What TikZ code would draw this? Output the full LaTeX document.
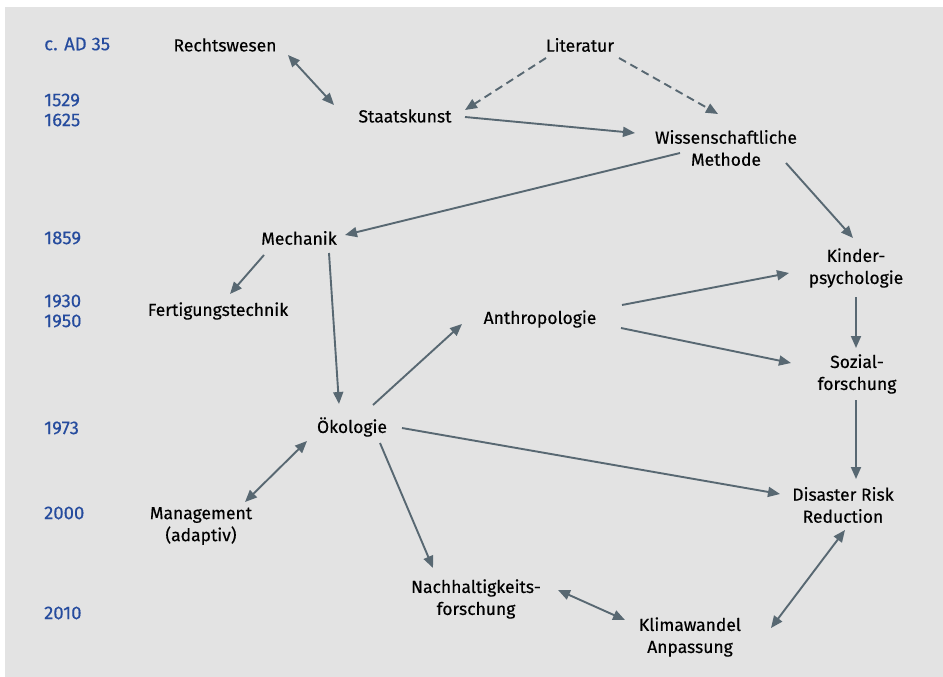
\documentclass[tikz,border=0pt]{standalone}
\usepackage{fontspec}
\setmainfont{Fira Sans}
\newfontfamily\labelfont[FakeBold=0.35]{Fira Sans}
\usetikzlibrary{arrows.meta,calc}
\definecolor{panelgray}{RGB}{227,227,227}
\definecolor{yearblue}{RGB}{38,76,158}
\definecolor{linkgray}{RGB}{88,104,114}

\begin{document}
\begin{tikzpicture}[x=1pt,y=-1pt,
  topic/.style={font=\labelfont\fontsize{17.5}{22}\selectfont,align=center,inner sep=0pt},
  year/.style={font=\labelfont\fontsize{18.5}{20}\selectfont,text=yearblue,anchor=west,align=left,inner sep=0pt},
  link/.style={draw=linkgray,line width=1.9pt,-{Triangle[length=12pt,width=10pt]}},
  both/.style={link,{Triangle[length=12pt,width=10pt]}-{Triangle[length=12pt,width=10pt]}},
  maybe/.style={link,dashed,dash pattern=on 8pt off 5pt}]
  \useasboundingbox (0,0) rectangle (943,677);
  \fill[panelgray] (5,7) rectangle (943,677);
  % time axis
  \node[year] (y35) at (44,44) {c. AD 35};
  \node[year] (y1529) at (44,110) {1529\\1625};
  \node[year] (y1859) at (44,238) {1859};
  \node[year] (y1930) at (44,311) {1930\\1950};
  \node[year] (y1973) at (44,428) {1973};
  \node[year] (y2000) at (44,513) {2000};
  \node[year] (y2010) at (44,613) {2010};
  % topics
  \node[topic] (recht) at (225,45) {Rechtswesen};
  \node[topic] (lit) at (580,45) {Literatur};
  \node[topic] (staat) at (405,116) {Staatskunst};
  \node[topic] (wiss) at (726,148) {Wissenschaftliche\\Methode};
  \node[topic] (mech) at (299,238) {Mechanik};
  \node[topic] (fert) at (218,311) {Fertigungstechnik};
  \node[topic] (kind) at (856,268) {Kinder-\\psychologie};
  \node[topic] (anthro) at (540,319) {Anthropologie};
  \node[topic] (sozial) at (857,374) {Sozial-\\forschung};
  \node[topic] (oeko) at (352,427) {Ökologie};
  \node[topic] (drr) at (843,505) {Disaster Risk\\Reduction};
  \node[topic] (mgmt) at (201,526) {Management\\(adaptiv)};
  \node[topic] (nach) at (476,599) {Nachhaltigkeits-\\forschung};
  \node[topic] (klima) at (690,637) {Klimawandel\\Anpassung};
  % links
  \draw[both] ($(recht)+(63,10)$) -- ($(staat)+(-71,-11)$);
  \draw[maybe] ($(lit)+(-34,13)$) -- ($(staat)+(60,-6)$);
  \draw[maybe] ($(lit)+(39,13)$) -- ($(wiss)+(-8,-34)$);
  \draw[link] ($(staat)+(60,1)$) -- ($(wiss)+(-91,-15)$);
  \draw[link] ($(wiss)+(-46,5)$) -- ($(mech)+(46,-3)$);
  \draw[link] ($(wiss)+(60,15)$) -- ($(kind)+(-3,-30)$);
  \draw[link] ($(mech)+(-35,17)$) -- ($(fert)+(12,-17)$);
  \draw[link] ($(mech)+(30,15)$) -- ($(oeko)+(-13,-23)$);
  \draw[link] ($(oeko)+(21,-22)$) -- ($(anthro)+(-78,5)$);
  \draw[link] ($(anthro)+(82,-14)$) -- ($(kind)+(-67,5)$);
  \draw[link] ($(anthro)+(81,9)$) -- ($(sozial)+(-66,-11)$);
  \draw[link] ($(kind)+(0,29)$) -- ($(sozial)+(-1,-26)$);
  \draw[link] ($(sozial)+(-1,26)$) -- ($(drr)+(13,-26)$);
  \draw[link] ($(oeko)+(50,1)$) -- ($(drr)+(-63,-11)$);
  \draw[both] ($(mgmt)+(44,-24)$) -- ($(oeko)+(-45,14)$);
  \draw[link] ($(oeko)+(28,16)$) -- ($(nach)+(-43,-31)$);
  \draw[both] ($(nach)+(82,-9)$) -- ($(klima)+(-65,-17)$);
  \draw[both] ($(klima)+(81,-9)$) -- ($(drr)+(2,25)$);
\end{tikzpicture}
\end{document}
